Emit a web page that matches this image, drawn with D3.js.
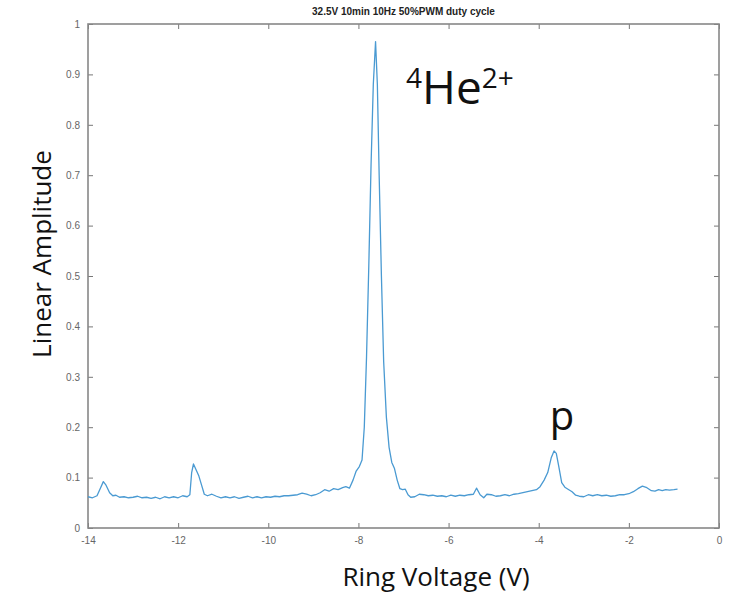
<!DOCTYPE html>
<html lang="en">
<head>
<meta charset="UTF-8">
<title>Ring voltage scan</title>
<script src="https://d3js.org/d3.v7.min.js"></script>
<style>
    body { margin: 0; background: #fff; }
    svg { display: block; }
    .tick text { font-family: "Liberation Sans", Arial, sans-serif; font-size: 10px; fill: #666; }
    .label { font-family: "Open Sans", "Noto Sans", sans-serif; fill: #111; }
</style>
</head>
<body>
<svg id="chart" width="738" height="595"></svg>
<script>
// ring voltage (V) and linear amplitude
var voltage = [
    -14.00, -13.90, -13.80, -13.72, -13.66, -13.60, -13.52, -13.45, -13.38, -13.30,
    -13.20, -13.10, -13.00, -12.90, -12.80, -12.70, -12.60, -12.50, -12.40, -12.30,
    -12.20, -12.10, -12.00, -11.90, -11.80, -11.74, -11.70, -11.66, -11.60, -11.54,
    -11.48, -11.42, -11.35, -11.25, -11.15, -11.05, -10.95, -10.85, -10.75, -10.65,
    -10.55, -10.45, -10.35, -10.25, -10.15, -10.05, -9.95, -9.85, -9.75, -9.65,
    -9.55, -9.45, -9.35, -9.25, -9.15, -9.05, -8.95, -8.85, -8.75, -8.65,
    -8.55, -8.45, -8.35, -8.28, -8.20, -8.12, -8.05, -7.98, -7.92, -7.87,
    -7.82, -7.77, -7.72, -7.67, -7.62, -7.58, -7.54, -7.49, -7.44, -7.38,
    -7.32, -7.26, -7.20, -7.14, -7.08, -7.02, -6.96, -6.90, -6.84, -6.75,
    -6.65, -6.55, -6.45, -6.35, -6.25, -6.15, -6.05, -5.95, -5.85, -5.75,
    -5.65, -5.55, -5.45, -5.38, -5.30, -5.22, -5.15, -5.05, -4.95, -4.85,
    -4.75, -4.65, -4.55, -4.45, -4.35, -4.25, -4.15, -4.05, -3.97, -3.88,
    -3.80, -3.72, -3.66, -3.61, -3.55, -3.49, -3.42, -3.35, -3.26, -3.18,
    -3.10, -3.00, -2.90, -2.80, -2.70, -2.60, -2.50, -2.40, -2.30, -2.20,
    -2.10, -2.00, -1.90, -1.80, -1.70, -1.60, -1.50, -1.42, -1.34, -1.26,
    -1.18, -1.10, -1.00, -0.92
];
var amplitude = [
    0.062, 0.060, 0.064, 0.080, 0.092, 0.085, 0.070, 0.064, 0.065, 0.061,
    0.062, 0.060, 0.061, 0.063, 0.060, 0.061, 0.059, 0.061, 0.058, 0.062,
    0.060, 0.062, 0.060, 0.064, 0.062, 0.066, 0.110, 0.127, 0.115, 0.103,
    0.085, 0.067, 0.064, 0.067, 0.063, 0.060, 0.062, 0.060, 0.062, 0.059,
    0.061, 0.063, 0.060, 0.062, 0.060, 0.062, 0.061, 0.063, 0.062, 0.064,
    0.064, 0.065, 0.066, 0.069, 0.067, 0.064, 0.066, 0.070, 0.076, 0.073,
    0.078, 0.076, 0.080, 0.082, 0.079, 0.095, 0.113, 0.122, 0.135, 0.200,
    0.340, 0.520, 0.720, 0.880, 0.965, 0.880, 0.700, 0.500, 0.330, 0.220,
    0.160, 0.130, 0.118, 0.095, 0.078, 0.076, 0.077, 0.066, 0.061, 0.062,
    0.067, 0.066, 0.064, 0.065, 0.063, 0.064, 0.062, 0.065, 0.063, 0.065,
    0.064, 0.066, 0.067, 0.079, 0.066, 0.060, 0.067, 0.066, 0.063, 0.064,
    0.066, 0.064, 0.067, 0.068, 0.070, 0.072, 0.074, 0.076, 0.082, 0.095,
    0.110, 0.140, 0.153, 0.148, 0.120, 0.090, 0.081, 0.077, 0.072, 0.065,
    0.063, 0.062, 0.066, 0.064, 0.066, 0.064, 0.065, 0.063, 0.064, 0.066,
    0.066, 0.068, 0.072, 0.078, 0.083, 0.080, 0.074, 0.073, 0.076, 0.074,
    0.076, 0.075, 0.076, 0.077
];
var xTicks = [-14, -12, -10, -8, -6, -4, -2, 0];
var yTicks = [0, 0.1, 0.2, 0.3, 0.4, 0.5, 0.6, 0.7, 0.8, 0.9, 1];
var titleText = "32.5V 10min 10Hz 50%PWM duty cycle";

var mLeft = 88, mRight = 719, mTop = 24, mBottom = 528;
var svg = d3.select("#chart");

var x = d3.scaleLinear().domain([-14, 0]).range([mLeft, mRight]);
var y = d3.scaleLinear().domain([0, 1]).range([mBottom, mTop]);

// plain hyphen minus like the original
var fmt = function(d) { return String(d); };

// ticks point inward like matlab
svg.append("g").attr("transform", "translate(0," + mBottom + ")")
    .call(d3.axisTop(x).tickValues(xTicks).tickSize(5).tickFormat(""))
    .call(g => g.select(".domain").remove());
svg.append("g").attr("transform", "translate(0," + mTop + ")")
    .call(d3.axisBottom(x).tickValues(xTicks).tickSize(5).tickFormat(""))
    .call(g => g.select(".domain").remove());
svg.append("g").attr("transform", "translate(" + mLeft + ",0)")
    .call(d3.axisRight(y).tickValues(yTicks).tickSize(5).tickFormat(""))
    .call(g => g.select(".domain").remove());
svg.append("g").attr("transform", "translate(" + mRight + ",0)")
    .call(d3.axisLeft(y).tickValues(yTicks).tickSize(5).tickFormat(""))
    .call(g => g.select(".domain").remove());
svg.selectAll(".tick line").attr("stroke", "#777").attr("stroke-width", 1);

// tick labels
svg.append("g").attr("transform", "translate(0," + mBottom + ")")
    .call(d3.axisBottom(x).tickValues(xTicks).tickSize(0).tickPadding(9).tickFormat(fmt))
    .call(g => g.select(".domain").remove());
svg.append("g").attr("transform", "translate(" + mLeft + ",0)")
    .call(d3.axisLeft(y).tickValues(yTicks).tickSize(0).tickPadding(8).tickFormat(fmt))
    .call(g => g.select(".domain").remove());

// box
svg.append("rect")
    .attr("x", mLeft).attr("y", mTop)
    .attr("width", mRight - mLeft).attr("height", mBottom - mTop)
    .attr("fill", "none").attr("stroke", "#888").attr("stroke-width", 1.6);

// the trace
var pts = voltage.map((v, i) => [v, amplitude[i]]);
svg.append("path")
    .datum(pts)
    .attr("fill", "none")
    .attr("stroke", "#4a9ad2")
    .attr("stroke-width", 1.3)
    .attr("stroke-linejoin", "round")
    .attr("d", d3.line().x(d => x(d[0])).y(d => y(d[1])));

// title
svg.append("text")
    .attr("x", (mLeft + mRight) / 2).attr("y", 15)
    .attr("text-anchor", "middle")
    .style("font-family", "Liberation Sans, Arial, sans-serif")
    .style("font-size", "10px").style("font-weight", "bold").style("fill", "#222")
    .text(titleText);

// axis labels
svg.append("text").attr("class", "label")
    .attr("x", 436).attr("y", 586)
    .attr("text-anchor", "middle")
    .style("font-size", "26px")
    .text("Ring Voltage (V)");
svg.append("text").attr("class", "label")
    .attr("transform", "translate(51,254) rotate(-90)")
    .attr("text-anchor", "middle")
    .style("font-size", "26px")
    .text("Linear Amplitude");

// peak annotations
var he = svg.append("text").attr("class", "label")
    .attr("x", 406).attr("y", 104)
    .style("font-size", "46px");
he.append("tspan").attr("dy", "-16").style("font-size", "28px").text("4");
he.append("tspan").attr("dy", "16").text("He");
he.append("tspan").attr("dy", "-16").style("font-size", "28px").text("2+");

svg.append("text").attr("class", "label")
    .attr("x", 562).attr("y", 430)
    .attr("text-anchor", "middle")
    .style("font-size", "40px")
    .text("p");
</script>
</body>
</html>
